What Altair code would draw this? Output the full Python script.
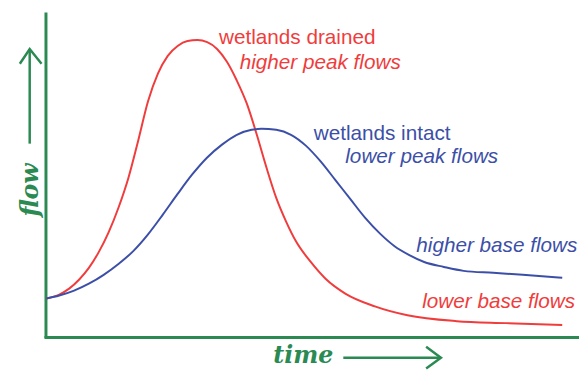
import altair as alt
import pandas as pd

# Hydrograph curves (time units from the flow axis, flow units from the time axis)
red_time = [2, 15, 25, 35, 45, 55, 65, 75, 85, 95, 105, 115, 125, 135, 145, 155, 165, 175, 185, 195, 205, 215, 225, 235, 245, 255, 270, 285, 305, 335, 368, 418, 468, 525]
red_flow = [40, 44, 50, 59, 71, 87, 107, 132, 162, 200, 240, 268, 286, 296, 301, 302, 300, 293, 280, 261, 238, 207, 173, 142, 118, 98, 77, 60, 45, 32, 23, 17, 15, 13]

blue_time = [2, 15, 30, 45, 60, 75, 90, 105, 120, 135, 150, 165, 180, 195, 210, 220, 235, 250, 265, 280, 295, 310, 325, 340, 355, 370, 385, 405, 425, 455, 485, 525]
blue_flow = [40, 43, 48, 55, 64, 75, 88, 105, 125, 146, 166, 183, 196, 206, 211, 212, 211, 206, 195, 179, 160, 141, 122, 106, 93, 84, 77, 72, 68, 66, 64, 61]

series_names = ["wetlands drained", "wetlands intact"]
series_colors = ["#f03c3c", "#3c4fa8"]

label_text = ["wetlands drained", "higher peak flows", "wetlands intact", "lower peak flows", "higher base flows", "lower base flows"]
label_time = [177, 198, 273, 305, 377, 383]
label_flow = [298, 273, 201, 177, 87, 30]
label_series = ["wetlands drained", "wetlands drained", "wetlands intact", "wetlands intact", "wetlands intact", "wetlands drained"]
label_italic = [False, True, False, True, True, True]

green = "#2a8a52"

xs = alt.Scale(domain=[-37, 542], nice=False, zero=False)
ys = alt.Scale(domain=[-31, 332], nice=False, zero=False)
cs = alt.Scale(domain=series_names, range=series_colors)

curves = pd.DataFrame(
    [{"t": t, "f": f, "s": series_names[0], "i": i} for i, (t, f) in enumerate(zip(red_time, red_flow))]
    + [{"t": t, "f": f, "s": series_names[1], "i": i} for i, (t, f) in enumerate(zip(blue_time, blue_flow))]
)

lines = alt.Chart(curves).mark_line(strokeWidth=2, interpolate="monotone").encode(
    x=alt.X("t:Q", scale=xs, axis=None),
    y=alt.Y("f:Q", scale=ys, axis=None),
    color=alt.Color("s:N", scale=cs, legend=None),
    order="i:Q",
)

labels = pd.DataFrame({"text": label_text, "t": label_time, "f": label_flow,
                       "s": label_series, "it": label_italic})

def text_layer(italic):
    return alt.Chart(labels).transform_filter(
        alt.datum.it == italic
    ).mark_text(
        align="left", baseline="alphabetic", fontSize=21,
        font="Liberation Sans", fontStyle="italic" if italic else "normal",
    ).encode(
        x=alt.X("t:Q", scale=xs, axis=None),
        y=alt.Y("f:Q", scale=ys, axis=None),
        text="text:N",
        color=alt.Color("s:N", scale=cs, legend=None),
    )

# Axis lines
axis_v = pd.DataFrame({"t": [1.5], "f": [0], "f2": [330]})
axis_h = pd.DataFrame({"t": [0], "t2": [542], "f": [0.5]})
vrule = alt.Chart(axis_v).mark_rule(color=green, strokeWidth=3).encode(
    x=alt.X("t:Q", scale=xs, axis=None), y=alt.Y("f:Q", scale=ys, axis=None), y2="f2:Q")
hrule = alt.Chart(axis_h).mark_rule(color=green, strokeWidth=3).encode(
    x=alt.X("t:Q", scale=xs, axis=None), x2="t2:Q", y=alt.Y("f:Q", scale=ys, axis=None))

# Arrows (shaft + chevron)
arrow_t = [-15, -15, -25, -15, -3, 303, 400, 387, 402, 387]
arrow_f = [197, 293, 278, 293, 278, -20, -20, -9, -20, -31]
arrow_g = ["a", "a", "b", "b", "b", "c", "c", "d", "d", "d"]
arrows = pd.DataFrame({"t": arrow_t, "f": arrow_f, "g": arrow_g, "i": list(range(len(arrow_t)))})
arrow_lines = alt.Chart(arrows).mark_line(color=green, strokeWidth=2.5).encode(
    x=alt.X("t:Q", scale=xs, axis=None), y=alt.Y("f:Q", scale=ys, axis=None),
    detail="g:N", order="i:Q")

axis_titles = pd.DataFrame({"text": ["flow", "time"], "t": [-7, 232], "f": [123, -25]})
flow_title = alt.Chart(axis_titles).transform_filter(alt.datum.text == "flow").mark_text(
    align="left", baseline="alphabetic", angle=270, fontSize=24, font="DejaVu Serif",
    fontStyle="italic", fontWeight="bold", color=green).encode(
    x=alt.X("t:Q", scale=xs, axis=None), y=alt.Y("f:Q", scale=ys, axis=None), text="text:N")
time_title = alt.Chart(axis_titles).transform_filter(alt.datum.text == "time").mark_text(
    align="left", baseline="alphabetic", fontSize=24, font="DejaVu Serif",
    fontStyle="italic", fontWeight="bold", color=green).encode(
    x=alt.X("t:Q", scale=xs, axis=None), y=alt.Y("f:Q", scale=ys, axis=None), text="text:N")

chart = alt.layer(
    vrule, hrule, arrow_lines, flow_title, time_title, lines, text_layer(False), text_layer(True)
).properties(
    width=579, height=363, padding=0,
    autosize=alt.AutoSizeParams(type="none"),
    background="white",
).configure_view(stroke=None)

chart.save("out.html", embed_options={"renderer": "svg", "actions": False})
